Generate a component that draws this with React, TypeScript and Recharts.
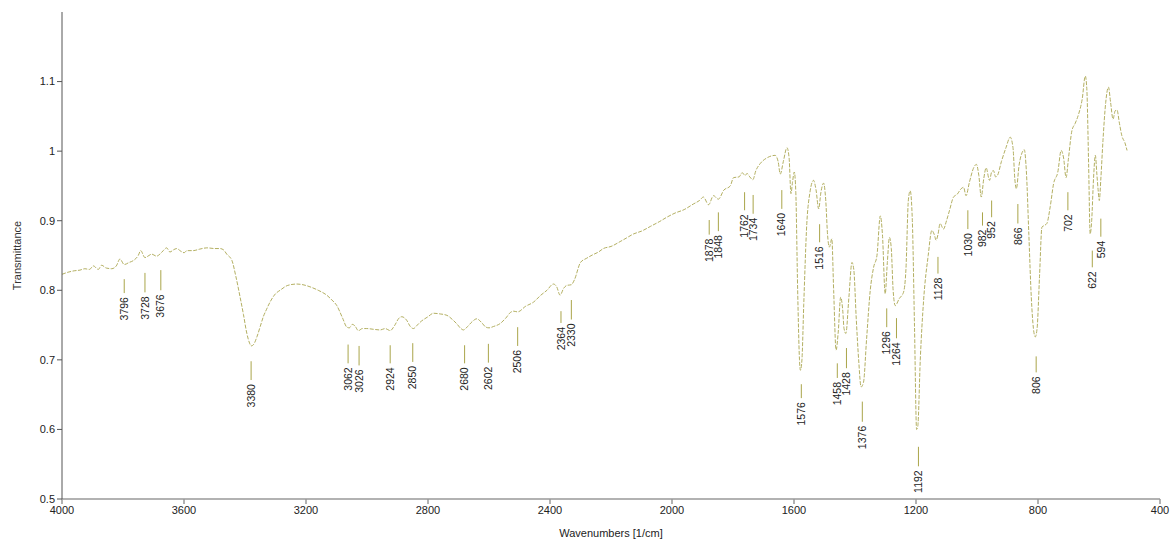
import {
  ComposedChart,
  Line,
  Scatter,
  XAxis,
  YAxis,
  ReferenceLine,
} from 'recharts'

// spectrum (wavenumber, transmittance)
const wavenumbers = [
  4000, 3980, 3960, 3941, 3925, 3910, 3897, 3881, 3870, 3855, 3837, 3822, 3810, 3796, 3780, 3765,
  3750, 3742, 3728, 3715, 3706, 3690, 3679, 3668, 3657, 3646, 3635, 3624, 3610, 3600, 3590, 3570,
  3550, 3525, 3500, 3482, 3470, 3460, 3443, 3430, 3416, 3405, 3394, 3385, 3380, 3372, 3361, 3350,
  3340, 3330, 3318, 3300, 3285, 3260, 3230, 3210, 3187, 3160, 3132, 3115, 3099, 3080, 3066, 3058,
  3048, 3040, 3028, 3015, 3001, 2980, 2957, 2940, 2924, 2910, 2895, 2886, 2870, 2858, 2848, 2835,
  2826, 2800, 2782, 2760, 2738, 2720, 2706, 2692, 2684, 2670, 2655, 2640, 2625, 2610, 2600, 2585,
  2564, 2545, 2530, 2520, 2506, 2480, 2454, 2430, 2410, 2389, 2378, 2367, 2355, 2345, 2330, 2320,
  2300, 2280, 2260, 2241, 2225, 2200, 2170, 2150, 2126, 2100, 2070, 2040, 2017, 1990, 1960, 1930,
  1910, 1897, 1880, 1864, 1848, 1830, 1809, 1798, 1780, 1770, 1760, 1754, 1745, 1735, 1725, 1711,
  1690, 1675, 1662, 1652, 1645, 1635, 1623, 1616, 1610, 1605, 1599, 1594, 1588, 1582, 1579, 1574,
  1568, 1558, 1548, 1536, 1528, 1519, 1512, 1503, 1496, 1490, 1484, 1476, 1470, 1462, 1455, 1447,
  1440, 1436, 1430, 1420, 1410, 1404, 1396, 1388, 1380, 1372, 1362, 1350, 1339, 1328, 1317, 1310,
  1301, 1294, 1287, 1281, 1275, 1268, 1255, 1241, 1233, 1225, 1219, 1212, 1205, 1198, 1194, 1186,
  1175, 1160, 1148, 1140, 1134, 1128, 1121, 1110, 1100, 1090, 1077, 1065, 1052, 1044, 1036, 1025,
  1012, 1002, 994, 986, 978, 970, 959, 952, 946, 939, 933, 920, 905, 891, 882, 876,
  871, 862, 852, 845, 838, 830, 822, 815, 809, 803, 795, 787, 780, 771, 760, 749,
  735, 724, 716, 708, 700, 689, 678, 667, 655, 645, 640, 634, 629, 624, 618, 612,
  607, 603, 599, 594, 587, 578, 569, 562, 554, 547, 541, 533, 525, 515, 508,
]

const transmittance = [
  0.823, 0.826, 0.828, 0.829, 0.831, 0.83, 0.835, 0.83, 0.836, 0.832, 0.831, 0.835, 0.845, 0.837, 0.84, 0.843,
  0.85, 0.857, 0.847, 0.85, 0.852, 0.849, 0.852, 0.857, 0.861, 0.855, 0.858, 0.86, 0.856, 0.854, 0.857, 0.857,
  0.859, 0.861, 0.86, 0.86, 0.858, 0.852, 0.843, 0.82, 0.79, 0.765, 0.738, 0.724, 0.72, 0.722, 0.733, 0.748,
  0.762, 0.772, 0.783, 0.795, 0.8, 0.807, 0.809, 0.808, 0.805, 0.8, 0.793, 0.786, 0.778, 0.76, 0.747, 0.746,
  0.751, 0.749, 0.742, 0.745, 0.745, 0.744, 0.743, 0.745, 0.742, 0.749, 0.76, 0.762, 0.757, 0.748, 0.745, 0.75,
  0.754, 0.762, 0.767, 0.766, 0.764, 0.758, 0.752, 0.745, 0.743, 0.748, 0.755, 0.759, 0.754, 0.747, 0.746, 0.748,
  0.752, 0.76, 0.768, 0.77, 0.769, 0.777, 0.783, 0.793, 0.8, 0.809, 0.805, 0.793, 0.803, 0.807, 0.808, 0.815,
  0.84, 0.846, 0.851, 0.855, 0.86, 0.863, 0.87, 0.875, 0.881, 0.885, 0.892, 0.899, 0.905, 0.911, 0.916, 0.924,
  0.929, 0.934, 0.923, 0.936, 0.931, 0.944, 0.95, 0.962, 0.963, 0.969, 0.965, 0.968, 0.963, 0.959, 0.972, 0.982,
  0.99, 0.993, 0.994, 0.985, 0.967, 0.985, 1.005, 0.99, 0.939, 0.955, 0.97, 0.94, 0.8, 0.7, 0.685, 0.7,
  0.78, 0.896, 0.94, 0.958, 0.945, 0.917, 0.94, 0.954, 0.93, 0.88, 0.862, 0.874, 0.8, 0.714, 0.74, 0.79,
  0.77, 0.745, 0.738, 0.79, 0.84, 0.83, 0.76, 0.7, 0.661, 0.668, 0.73, 0.8, 0.833, 0.85, 0.907, 0.88,
  0.795, 0.84, 0.876, 0.86, 0.8, 0.778, 0.788, 0.797, 0.83, 0.93, 0.943, 0.9, 0.75, 0.6, 0.605, 0.7,
  0.786, 0.85, 0.886, 0.88, 0.872, 0.88, 0.896, 0.888, 0.9, 0.915, 0.934, 0.938, 0.946, 0.948, 0.936, 0.955,
  0.975, 0.981, 0.965, 0.934, 0.96, 0.976, 0.958, 0.97, 0.972, 0.963, 0.965, 0.985, 1.005, 1.02, 1.005, 0.96,
  0.946, 0.98, 0.998, 1.002, 0.97, 0.88, 0.79, 0.745, 0.733, 0.745, 0.82, 0.891, 0.893, 0.896, 0.92, 0.953,
  0.97, 1.001, 0.99, 0.962, 0.99, 1.029, 1.04, 1.053, 1.075, 1.108, 1.09, 0.98, 0.881, 0.9, 0.96, 0.994,
  0.967, 0.945, 0.929, 0.96, 1.015, 1.07, 1.092, 1.07, 1.046, 1.058, 1.059, 1.04, 1.022, 1.012, 1.001,
]

// peak annotations: label, marker top and bottom (transmittance units)
const peakLabels = [
  3796, 3728, 3676, 3380, 3062, 3026, 2924, 2850, 2680, 2602, 2506, 2364, 2330, 1878, 1848, 1762,
  1734, 1640, 1576, 1516, 1458, 1428, 1376, 1296, 1264, 1192, 1128, 1030, 982, 952, 866, 806,
  702, 622, 594,
]
const peakTop = [
  0.816, 0.825, 0.829, 0.698, 0.722, 0.72, 0.721, 0.724, 0.721, 0.723, 0.747, 0.77, 0.786, 0.901, 0.912, 0.941,
  0.937, 0.944, 0.665, 0.895, 0.695, 0.717, 0.64, 0.774, 0.76, 0.575, 0.848, 0.915, 0.912, 0.929, 0.924, 0.705,
  0.941, 0.857, 0.903,
]
const peakBottom = [
  0.796, 0.797, 0.8, 0.671, 0.695, 0.692, 0.695, 0.697, 0.695, 0.696, 0.72, 0.753, 0.758, 0.88, 0.885, 0.915,
  0.91, 0.917, 0.645, 0.869, 0.674, 0.688, 0.611, 0.747, 0.731, 0.547, 0.824, 0.888, 0.893, 0.905, 0.896, 0.682,
  0.915, 0.833, 0.877,
]

const xTicks = [4000, 3600, 3200, 2800, 2400, 2000, 1600, 1200, 800, 400]
const yTicks = [0.5, 0.6, 0.7, 0.8, 0.9, 1, 1.1]

const spectrum = wavenumbers.map((wn, i) => ({ wn, t: transmittance[i] }))
const peaks = peakLabels.map((wn, i) => ({ wn, t: peakBottom[i], top: peakTop[i] }))

const lineColor = '#aaa650'
const markColor = '#aaa54a'

function PeakText(props: any) {
  const { cx, cy, payload } = props
  if (cx == null || cy == null) return null
  return (
    <text
      x={cx}
      y={cy + 4}
      transform={`rotate(-90 ${cx} ${cy + 4})`}
      textAnchor="end"
      dy="0.35em"
      fontSize={10.5}
      fill="#222"
    >
      {payload.wn}
    </text>
  )
}

export default function App() {
  return (
    <div
      style={{
        position: 'absolute',
        left: 0,
        top: 0,
        fontFamily: '"Liberation Sans", Arial, sans-serif',
      }}
    >
      <ComposedChart
        width={1170}
        height={540}
        margin={{ top: 12, right: 10, bottom: 0, left: 0 }}
      >
        <XAxis
          dataKey="wn"
          type="number"
          domain={[400, 4000]}
          reversed
          ticks={xTicks}
          allowDataOverflow
          tickSize={5}
          height={41}
          stroke="#999"
          strokeWidth={1.5}
          tick={{ fill: '#222', fontSize: 11 }}
          label={({ viewBox }: any) => (
            <text
              x={viewBox.x + viewBox.width / 2}
              y={533}
              textAnchor="middle"
              dy="0.35em"
              fontSize={11}
              fill="#222"
            >
              Wavenumbers [1/cm]
            </text>
          )}
        />
        <YAxis
          dataKey="t"
          type="number"
          domain={[0.5, 1.2]}
          ticks={yTicks}
          allowDataOverflow
          width={62}
          tickSize={5}
          stroke="#555"
          tick={{ fill: '#222', fontSize: 11 }}
          label={({ viewBox }: any) => {
            const cy = viewBox.y + viewBox.height / 2
            return (
              <text
                x={17}
                y={cy}
                transform={`rotate(-90 17 ${cy})`}
                textAnchor="middle"
                dy="0.35em"
                fontSize={11}
                fill="#333"
              >
                Transmittance
              </text>
            )
          }}
        />
        {peaks.map((p) => (
          <ReferenceLine
            key={p.wn}
            segment={[
              { x: p.wn, y: p.top },
              { x: p.wn, y: p.t },
            ]}
            stroke={markColor}
            strokeWidth={1}
          />
        ))}
        <Line
          data={spectrum}
          dataKey="t"
          type="monotone"
          stroke={lineColor}
          strokeWidth={0.9}
          strokeDasharray="4 1.5"
          dot={false}
          activeDot={false}
          isAnimationActive={false}
        />
        <Scatter
          data={peaks}
          dataKey="t"
          shape={PeakText}
          isAnimationActive={false}
        />
      </ComposedChart>
    </div>
  )
}
